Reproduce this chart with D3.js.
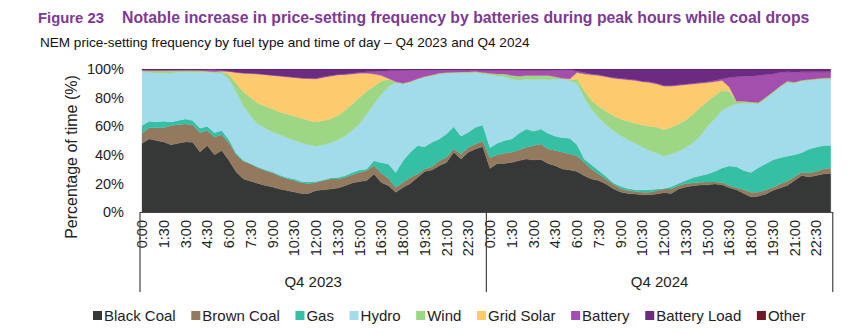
<!DOCTYPE html>
<html><head><meta charset="utf-8">
<script src="https://cdn.jsdelivr.net/npm/d3@7"></script>
<style>body{margin:0;background:#fff}svg{display:block}</style>
</head><body><svg id="c" width="867" height="334"></svg>
<script>
// ---------- DATA ----------
const groups = ["Q4 2023", "Q4 2024"];
const tickLabels = ["0:00","1:30","3:00","4:30","6:00","7:30","9:00","10:30","12:00","13:30","15:00","16:30","18:00","19:30","21:00","22:30"];
const seriesNames = ["Black Coal","Brown Coal","Gas","Hydro","Wind","Grid Solar","Battery","Battery Load","Other"];
const yTicks = [0, 20, 40, 60, 80, 100];

// 48 half-hour slots for Q4 2023 followed by 48 for Q4 2024 (% of time)
const blackCoal = [
 48,51,50,49,47,48,49,48.7,42,46.5,40,43,36,28,23,21.5,20,18.5,17.5,16,15,14,13,13,
 15,15.6,16,16.8,18.4,20.3,21.4,22,26.6,20.7,18.4,13.8,17.2,20,24.2,28.4,29.4,32.4,34.7,41.7,37,41.7,44,45.7,
 30.5,34,34,34.7,36,37,36.4,36.8,34,32.4,30,29.4,28.4,25.4,23,22,19.6,16.3,14,13,12.6,12.1,12.1,12.6,
 13.5,13,16,17.5,18.3,18.8,19,19.5,19,17,15.5,13,10.5,11,12.5,15,16.8,18.5,22,25.5,24.5,25.5,26.6,27];
const brownCoal = [
 7,8,9,10,13.5,13,12.5,12.3,13.5,10.5,12.5,11,12.5,12,12.5,12,11,10.5,10,9,8.5,8,7.5,7,
 5.7,6.4,7,6.2,5.8,5.7,6.3,7,6,6.5,5,3.4,3.5,4.2,2.4,1.6,2.3,3.5,3.5,2.3,3.5,3.5,3.5,3.7,
 7.5,6,7,7,7.4,8.2,10,10.7,10,10.6,11.7,11.1,11,9.3,7,4.6,3.4,3.3,2.5,2,1.9,1.7,1.7,2.4,
 2.5,3,2.5,2.5,2,2,2,1.5,1.7,1.5,1.5,2.5,3.3,2.8,2.9,2.2,2.8,3,2.7,2.3,2.8,2.9,3.4,3.8];
const gas = [
 5.5,4.5,4,4.5,2.5,3,3.5,3,3,3,3,3,2,1,0.5,0.3,0.5,0.5,0.5,0.8,0.7,1,0.8,1,
 0.7,0.4,0.8,1.2,1.2,1.7,1.7,1,3.3,7.3,10.2,10.5,15.2,17.5,19.8,15.7,17,15.1,16.3,15.7,12.5,10.5,11.7,11.4,
 7,8,9,9.3,11.6,12.8,10.1,10.5,11,10,10.3,11,7.6,2.3,3,2.4,2,0.9,1.5,1.5,1,1.7,1.7,1,
 0.5,1.7,1.5,2,3.9,4.6,5.6,7.4,10.1,13.7,14.7,13.5,13.9,17.2,18.2,19.2,18.4,17.5,15.3,13.7,16.7,16.9,16.5,15.7];
const hydro = [
 37.5,34,34,33.5,34.2,33.7,32.7,33.7,39.2,37.7,42,40,42.5,43,38,33.2,30,29,28,28.2,27.8,27,27.2,26,
 24.6,24.6,24.7,26.1,27.6,29.3,32.1,38.5,39.6,47.9,54.2,62.8,53.6,49,46.3,48.6,46.6,45.5,42.5,37.5,44.4,41.7,38.5,35.7,
 51,47,44.5,42,37,35,35.8,35,37.3,40,41,40.5,43,43,39,37,36,36.5,35.5,34,32.5,30,27.5,25,
 22.5,22.9,22.4,23,24.3,27.6,33.4,36.6,40.2,41.8,43.8,47,48.3,44.5,45.4,46.6,49,51.5,50,50,48,47.2,46.5,46.5];
const wind = [
 1,1.3,1.8,1.8,1.8,1.3,1.3,1.3,1.3,0.8,0.5,1,3,6,10,13,14.5,15.5,16,16,16.5,17,17,17,
 17,17,16.5,17.1,18,18.5,18.5,16,12.5,9.1,5,0.5,0.5,0.5,0.5,0.5,0.5,0.5,0.5,0.5,0.5,0.5,0.5,1,
 1,1.5,2,2.5,3,2.5,3.2,2.5,3.2,1.5,0.5,0.5,3,5,6,8,9.5,10.5,11.5,13,14,15.5,17,18.5,
 18.5,18.6,19.1,19.3,20,20,17.5,16.5,14,10.5,2,1.5,1,1,1,1,1,1,0.8,0.7,0.7,0.7,0.7,0.8];
const gridSolar = [
 0,0,0,0,0,0,0,0,0,0,0,0.5,2.3,7.5,13,16.8,20.5,22,23.5,25,26,27,28,29.3,
 30,30,30,28.4,25,21,17,12.5,8.5,4,0.5,0,0,0,0,0,0,0,0,0,0,0,0,0,
 0,0,0,0,0,0,0,0,0,0,0,0.5,4.5,11.5,18,21.5,24,26,28,29,30,30,30.5,30,
 30.5,28.8,27,24.7,21,17,13,9.5,7,3,0,0,0,0,0,0,0,0,0,0,0,0,0,0];
const battery = [
 0.3,0.5,0.5,0.5,0.3,0.3,0.3,0.3,0.3,1,1.5,0.5,0.2,0.2,0.2,0.2,0.2,0.2,0.2,0.2,0.2,0.2,0.2,0.2,
 0.5,0.5,0.5,0.4,0.5,0.5,0.5,1,1.8,3,5.5,8,9,8,6,4.5,3.4,2.2,1.7,1.5,1.3,1.3,1,1.5,
 2.3,2.8,2.8,3.7,4,3.5,3.5,3.5,3.5,4.7,6,6.5,1,1,0.5,0.5,0.5,0.5,0.5,0.5,0.5,0.5,0.5,0.5,
 0.5,0.5,0.5,0.5,0.5,0.5,0.5,1,1,6.5,17,17.5,18,19,16,12.5,9.5,6.5,7,5.8,5.3,4.8,4.3,4.2];
const batteryLoad = [
 0.7,0.7,0.7,0.7,0.7,0.7,0.7,0.7,0.7,0.7,0.5,1,1.5,2.3,2.8,3,3.3,3.8,4.3,4.8,5.3,5.8,6.3,6.5,
 6.5,5.5,4.5,3.8,3.5,3,2.5,2,1.7,1.5,1.2,1,1,0.8,0.8,0.8,0.8,0.8,0.8,0.8,0.8,0.8,0.8,1,
 0.7,0.7,0.7,0.8,1,1,1,1,1,0.8,0.5,0.5,1.5,2.5,3.5,4,5,6,6.5,7,7.5,8.5,9,10,
 11.5,11.5,11,10.5,10,9.5,9,8,7,6,5.5,5,5,4.5,4,3.5,2.5,2,2.2,2,2,2,2,2];
const other = [
 0,0,0,0,0,0,0,0,0,0,0,0,0,0,0,0,0,0,0,0,0,0,0,0,
 0,0,0,0,0,0,0,0,0,0,0,0,0,0,0,0,0,0,0,0,0,0,0,0,
 0,0,0,0,0,0,0,0,0,0,0,0,0,0,0,0,0,0,0,0,0,0,0,0,
 0,0,0,0,0,0,0,0,0,0,0,0,0,0,0,0,0,0,0,0,0,0,0,0];

// ---------- STYLE / LAYOUT ----------
const colors = ["#363838","#937a5f","#35bfa3","#a2dbe9","#9dd785","#fdca6d","#a44fad","#6b2b80","#6e1a22"];
const seriesData = [blackCoal,brownCoal,gas,hydro,wind,gridSolar,battery,batteryLoad,other];
const perGroup = blackCoal.length / groups.length;
const rows = blackCoal.map((_, i) => {
  const r = {};
  seriesNames.forEach((n, k) => r[n] = seriesData[k][i]);
  return r;
});

const svg = d3.select("#c");
const font = "'Liberation Sans', Arial, sans-serif";
const x = d3.scaleLinear().domain([0, rows.length - 1]).range([142, 830.75]);
const y = d3.scaleLinear().domain([0, 100]).range([212, 69]);

svg.append("clipPath").attr("id","clip").append("rect")
  .attr("x", 140).attr("y", y(100)).attr("width", 700).attr("height", y(0) - y(100));

const stack = d3.stack().keys(seriesNames)(rows);
const area = d3.area().x((d, i) => x(i)).y0(d => y(Math.min(100, d[0]))).y1(d => y(Math.min(100, d[1])));
svg.append("g").attr("clip-path","url(#clip)")
  .selectAll("path").data(stack).join("path")
  .attr("d", area).attr("fill", (d, k) => colors[k]).attr("stroke", (d,k)=>colors[k]).attr("stroke-width",0.3);

// y axis labels
const yAxis = d3.axisLeft(y).tickValues(yTicks).tickFormat(d => d + "%").tickSize(0).tickPadding(0);
const ya = svg.append("g").attr("transform","translate(124,0)").call(yAxis);
ya.select(".domain").remove();
ya.selectAll("text").attr("font-family", font).attr("font-size", 14.5).attr("fill","#222");

// y title
svg.append("text").attr("transform","translate(77,157) rotate(-90)")
  .attr("text-anchor","middle").attr("font-family", font).attr("font-size", 16).attr("fill","#222")
  .text("Percentage of time (%)");

// x axis baseline
svg.append("line").attr("x1",140).attr("x2",833).attr("y1",y(0)+0.5).attr("y2",y(0)+0.5)
  .attr("stroke","#444").attr("stroke-width",1.2);

// tick labels
const tickIdx = [];
groups.forEach((g, gi) => tickLabels.forEach((t, k) => tickIdx.push({i: gi*perGroup + k*3, t})));
svg.append("g").selectAll("text").data(tickIdx).join("text")
  .attr("transform", d => `translate(${x(d.i)},${y(0)+8}) rotate(-90)`)
  .attr("text-anchor","end").attr("dy","0.35em")
  .attr("font-family", font).attr("font-size", 14.5).attr("fill","#222")
  .text(d => d.t);

// group dividers & labels
const divX = [x(0) - 2, x(perGroup - 0.5), x(rows.length - 1) + 2];
svg.append("g").selectAll("line").data(divX).join("line")
  .attr("x1", d => d).attr("x2", d => d).attr("y1", y(0)).attr("y2", 292)
  .attr("stroke","#444").attr("stroke-width",1.2);
svg.append("g").selectAll("text").data(groups).join("text")
  .attr("x", (d, gi) => (divX[gi] + divX[gi+1]) / 2).attr("y", 287)
  .attr("text-anchor","middle").attr("font-family", font).attr("font-size", 15).attr("fill","#222")
  .text(d => d);

// title
function fit(sel, w) {
  const n = sel.node(); const fs = parseFloat(sel.attr("font-size"));
  sel.attr("font-size", fs * w / n.getComputedTextLength());
}
svg.append("text").attr("x",38).attr("y",23).attr("font-family", font).attr("font-weight","bold")
  .attr("font-size",15).attr("fill","#7d3a95").text("Figure 23").call(s => fit(s, 66));
svg.append("text").attr("x",122).attr("y",23).attr("font-family", font).attr("font-weight","bold")
  .attr("font-size",15).attr("fill","#7d3a95")
  .text("Notable increase in price-setting frequency by batteries during peak hours while coal drops")
  .call(s => fit(s, 688));
svg.append("text").attr("x",40).attr("y",47).attr("font-family", font)
  .attr("font-size",13).attr("fill","#111")
  .text("NEM price-setting frequency by fuel type and time of day \u2013 Q4 2023 and Q4 2024")
  .call(s => fit(s, 490));

// legend
const lg = svg.append("g").attr("transform","translate(93,316)");
let lx = 0;
seriesNames.forEach((n, k) => {
  lg.append("rect").attr("x", lx).attr("y", -5).attr("width", 9).attr("height", 9).attr("fill", colors[k]);
  const t = lg.append("text").attr("x", lx + 11).attr("y", 0).attr("dy","0.35em")
    .attr("font-family", font).attr("font-size", 15).attr("fill","#222").text(n);
  lx += 11 + t.node().getComputedTextLength() + 15.6;
});
</script></body></html>
